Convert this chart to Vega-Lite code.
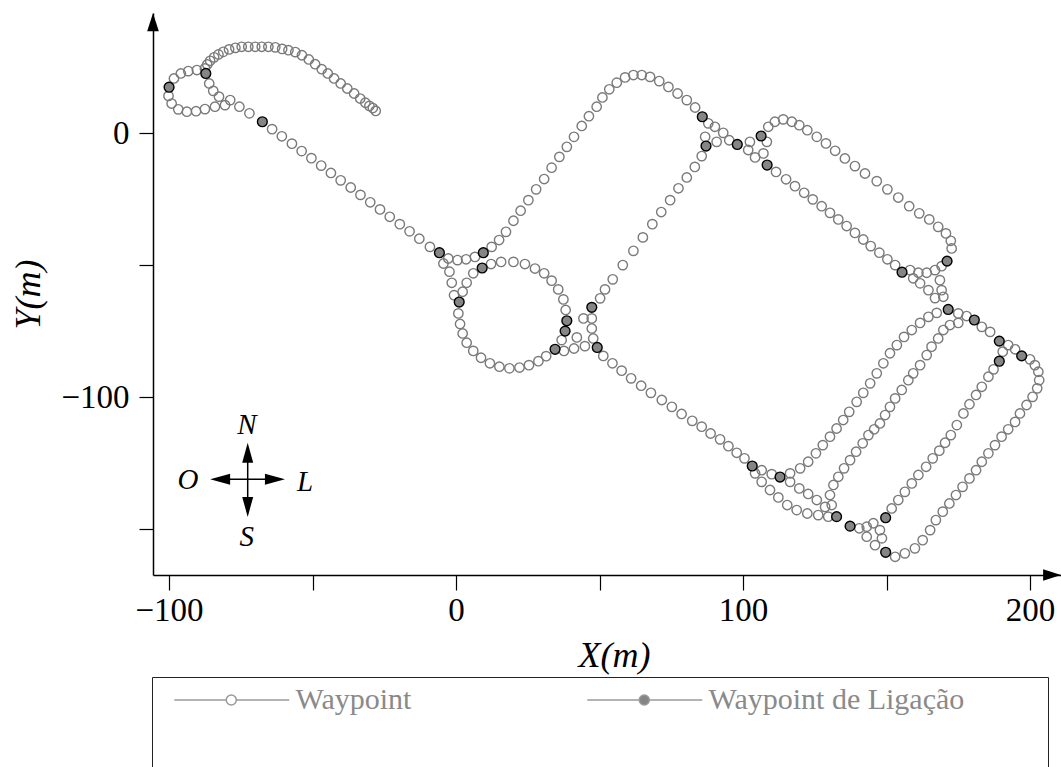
{
"$schema":"https://vega.github.io/schema/vega-lite/v6.json",
"width":908,"height":562,
"autosize":{"type":"none"},
"padding":{"left":153,"top":13,"right":0,"bottom":192},
"background":"white",
"config":{"view":{"stroke":null}},
"datasets":{
"wp":[
{"x":-28.0,"y":8.4},{"x":-29.0,"y":9.5},{"x":-30.2,"y":10.3},{"x":-31.6,"y":11.5},{"x":-33.4,"y":13.1},{"x":-35.5,"y":15.0},{"x":-37.9,"y":16.9},{"x":-40.2,"y":18.8},{"x":-42.5,"y":20.7},{"x":-44.7,"y":22.6},{"x":-46.8,"y":24.2},{"x":-49.1,"y":26.1},{"x":-51.3,"y":27.9},{"x":-53.7,"y":29.5},{"x":-56.0,"y":30.7},{"x":-58.4,"y":31.4},{"x":-60.6,"y":31.9},{"x":-63.0,"y":32.5},{"x":-65.4,"y":32.7},{"x":-67.7,"y":32.7},{"x":-70.0,"y":32.7},{"x":-72.4,"y":32.7},{"x":-74.7,"y":32.7},{"x":-76.9,"y":32.3},{"x":-79.1,"y":31.7},{"x":-81.1,"y":30.8},{"x":-82.8,"y":29.8},{"x":-84.3,"y":28.7},{"x":-85.7,"y":27.4},{"x":-86.7,"y":26.0},{"x":-87.5,"y":24.5},
{"x":-90.3,"y":23.9},{"x":-93.3,"y":23.5},{"x":-95.9,"y":22.6},{"x":-98.3,"y":20.7},{"x":-100.2,"y":14.1},{"x":-99.1,"y":11.2},{"x":-96.8,"y":9.0},{"x":-93.8,"y":8.1},{"x":-90.6,"y":8.3},{"x":-87.5,"y":9.1},{"x":-84.0,"y":10.0},{"x":-80.5,"y":10.6},
{"x":-86.0,"y":18.8},{"x":-84.6,"y":16.0},{"x":-82.6,"y":13.8},{"x":-78.7,"y":12.5},{"x":-75.5,"y":10.0},{"x":-72.0,"y":7.5},
{"x":-64.1,"y":1.5},{"x":-60.7,"y":-1.2},{"x":-57.2,"y":-4.0},{"x":-53.8,"y":-6.8},{"x":-50.4,"y":-9.5},{"x":-47.0,"y":-12.3},{"x":-43.6,"y":-15.1},{"x":-40.2,"y":-17.9},{"x":-36.7,"y":-20.6},{"x":-33.3,"y":-23.4},{"x":-29.9,"y":-26.2},{"x":-26.5,"y":-28.9},{"x":-23.1,"y":-31.7},{"x":-19.6,"y":-34.5},{"x":-16.2,"y":-37.2},{"x":-12.8,"y":-40.0},{"x":-9.1,"y":-43.1},
{"x":-2.7,"y":-47.5},{"x":0.5,"y":-48.1},{"x":3.5,"y":-47.8},{"x":6.6,"y":-46.9},{"x":12.4,"y":-43.1},{"x":15.0,"y":-40.5},{"x":17.4,"y":-37.4},{"x":-4.4,"y":-49.4},{"x":-2.3,"y":-52.5},{"x":-1.5,"y":-56.7},{"x":-0.7,"y":-61.4},{"x":6.0,"y":-53.1},{"x":3.7,"y":-56.7},{"x":2.3,"y":-60.1},{"x":12.2,"y":-49.6},{"x":15.7,"y":-48.8},{"x":20.0,"y":-48.8},{"x":24.0,"y":-49.6},{"x":27.5,"y":-51.3},{"x":30.7,"y":-53.1},{"x":33.3,"y":-55.9},{"x":35.6,"y":-59.2},{"x":37.4,"y":-63.0},{"x":38.2,"y":-67.0},{"x":0.8,"y":-68.3},{"x":1.4,"y":-72.3},{"x":2.3,"y":-75.9},{"x":3.7,"y":-79.4},{"x":6.0,"y":-82.5},{"x":8.7,"y":-85.1},{"x":11.8,"y":-87.2},{"x":15.1,"y":-88.5},{"x":18.6,"y":-89.1},{"x":22.1,"y":-88.8},{"x":25.4,"y":-87.9},{"x":28.7,"y":-86.4},{"x":31.4,"y":-84.5},{"x":37.6,"y":-82.5},{"x":41.1,"y":-81.6},{"x":44.9,"y":-80.7},{"x":36.8,"y":-78.4},{"x":42.1,"y":-77.4},{"x":44.4,"y":-70.2},{"x":47.3,"y":-70.2},{"x":47.3,"y":-74.0},{"x":47.8,"y":-77.8},{"x":50.2,"y":-62.6},{"x":51.9,"y":-59.2},{"x":54.6,"y":-55.4},
{"x":20.0,"y":-33.2},{"x":22.5,"y":-29.4},{"x":25.2,"y":-25.4},{"x":27.9,"y":-21.3},{"x":30.7,"y":-17.4},{"x":33.3,"y":-13.1},{"x":36.0,"y":-9.0},{"x":38.6,"y":-5.2},{"x":41.1,"y":-1.4},{"x":43.8,"y":2.7},{"x":46.3,"y":6.4},{"x":49.0,"y":10.0},{"x":51.0,"y":13.5},{"x":53.4,"y":16.6},{"x":56.0,"y":19.1},{"x":58.9,"y":21.1},{"x":61.8,"y":22.0},{"x":64.7,"y":22.0},{"x":67.6,"y":21.3},{"x":70.8,"y":19.7},{"x":74.0,"y":17.5},{"x":77.2,"y":15.0},{"x":80.4,"y":12.5},{"x":83.3,"y":9.7},
{"x":87.9,"y":3.7},{"x":90.2,"y":2.4},{"x":93.1,"y":0.1},{"x":95.2,"y":-2.7},{"x":86.8,"y":-1.4},{"x":90.8,"y":-3.3},{"x":101.8,"y":-6.4},{"x":104.2,"y":-9.2},{"x":102.4,"y":-3.3},{"x":107.1,"y":-7.7},{"x":108.3,"y":-3.3},
{"x":108.8,"y":2.4},{"x":111.1,"y":4.3},{"x":114.0,"y":5.2},{"x":117.0,"y":4.3},{"x":119.6,"y":3.0},{"x":122.4,"y":1.1},{"x":125.7,"y":-1.4},{"x":128.9,"y":-3.9},{"x":132.1,"y":-6.7},{"x":135.5,"y":-9.6},{"x":139.0,"y":-12.5},{"x":142.5,"y":-15.3},{"x":146.6,"y":-18.2},{"x":150.3,"y":-21.3},{"x":154.1,"y":-24.4},{"x":157.9,"y":-27.7},{"x":161.4,"y":-30.4},{"x":164.9,"y":-32.7},{"x":168.0,"y":-35.5},{"x":170.7,"y":-38.0},{"x":172.4,"y":-40.8},{"x":172.7,"y":-43.7},
{"x":111.5,"y":-14.7},{"x":115.0,"y":-17.5},{"x":118.1,"y":-20.1},{"x":121.3,"y":-22.6},{"x":124.3,"y":-25.1},{"x":127.4,"y":-27.7},{"x":130.3,"y":-30.2},{"x":133.2,"y":-32.7},{"x":136.1,"y":-35.2},{"x":139.0,"y":-37.8},{"x":141.9,"y":-40.3},{"x":144.5,"y":-42.8},{"x":147.5,"y":-45.3},{"x":150.3,"y":-47.8},{"x":153.0,"y":-50.0},
{"x":158.2,"y":-51.9},{"x":161.1,"y":-52.9},{"x":164.0,"y":-52.9},{"x":166.9,"y":-51.9},{"x":169.2,"y":-50.4},{"x":159.3,"y":-55.0},{"x":161.7,"y":-56.9},{"x":164.6,"y":-59.5},{"x":168.6,"y":-55.7},{"x":169.2,"y":-59.5},{"x":169.8,"y":-62.0},{"x":166.9,"y":-62.5},
{"x":85.6,"y":-8.7},{"x":83.2,"y":-12.8},{"x":80.4,"y":-16.8},{"x":77.5,"y":-20.9},{"x":74.6,"y":-25.4},{"x":71.5,"y":-29.9},{"x":68.4,"y":-34.5},{"x":65.1,"y":-39.5},{"x":61.8,"y":-44.6},{"x":58.1,"y":-50.0},
{"x":51.3,"y":-84.4},{"x":54.5,"y":-87.2},{"x":57.7,"y":-90.0},{"x":61.0,"y":-92.9},{"x":64.5,"y":-95.7},{"x":67.9,"y":-98.4},{"x":71.7,"y":-101.1},{"x":75.2,"y":-103.7},{"x":78.6,"y":-106.4},{"x":82.3,"y":-109.0},{"x":85.6,"y":-111.2},{"x":88.7,"y":-113.8},{"x":92.0,"y":-116.0},{"x":94.9,"y":-118.6},{"x":97.8,"y":-121.1},{"x":100.5,"y":-123.2},
{"x":106.5,"y":-127.7},{"x":110.0,"y":-129.2},
{"x":116.4,"y":-128.9},{"x":119.9,"y":-127.0},{"x":122.7,"y":-124.5},{"x":125.4,"y":-121.3},{"x":127.8,"y":-118.2},{"x":130.3,"y":-115.0},{"x":132.6,"y":-111.9},{"x":134.9,"y":-108.7},{"x":137.0,"y":-105.6},{"x":139.6,"y":-101.8},{"x":141.9,"y":-98.4},{"x":144.3,"y":-94.8},{"x":146.6,"y":-91.0},{"x":148.9,"y":-87.2},{"x":151.2,"y":-83.4},{"x":153.6,"y":-80.3},{"x":156.1,"y":-77.2},{"x":158.8,"y":-74.6},{"x":161.7,"y":-71.9},{"x":164.6,"y":-69.6},{"x":167.5,"y":-68.1},
{"x":175.0,"y":-68.3},{"x":177.9,"y":-69.3},{"x":183.2,"y":-73.4},{"x":186.1,"y":-75.3},{"x":190.5,"y":-82.8},{"x":192.4,"y":-80.3},{"x":194.8,"y":-81.9},{"x":200.0,"y":-85.7},{"x":201.7,"y":-87.9},{"x":202.9,"y":-90.4},{"x":203.2,"y":-93.6},{"x":202.5,"y":-96.7},{"x":200.9,"y":-99.9},{"x":198.8,"y":-103.0},
{"x":196.5,"y":-106.2},{"x":194.8,"y":-109.4},{"x":192.4,"y":-112.2},{"x":190.1,"y":-115.0},{"x":187.8,"y":-118.2},{"x":185.5,"y":-121.3},{"x":183.2,"y":-124.5},{"x":181.2,"y":-127.7},{"x":178.9,"y":-130.8},{"x":176.5,"y":-134.0},{"x":174.2,"y":-137.1},{"x":171.9,"y":-140.3},{"x":169.6,"y":-143.4},{"x":167.2,"y":-146.6},{"x":165.2,"y":-150.4},{"x":162.6,"y":-154.2},{"x":159.9,"y":-157.3},{"x":156.4,"y":-159.2},{"x":153.0,"y":-160.5},
{"x":175.0,"y":-71.9},{"x":172.1,"y":-72.7},{"x":169.8,"y":-74.6},{"x":168.0,"y":-77.8},{"x":165.7,"y":-80.9},{"x":164.0,"y":-84.1},{"x":161.7,"y":-87.9},{"x":159.3,"y":-91.0},{"x":157.6,"y":-93.6},{"x":155.3,"y":-97.3},{"x":153.0,"y":-100.5},{"x":151.2,"y":-103.7},{"x":149.5,"y":-106.8},{"x":147.7,"y":-110.0},{"x":145.7,"y":-112.2},{"x":143.7,"y":-114.4},{"x":141.7,"y":-117.5},{"x":139.4,"y":-120.7},{"x":137.3,"y":-123.9},{"x":135.2,"y":-127.0},{"x":133.2,"y":-130.2},{"x":131.5,"y":-133.3},{"x":130.3,"y":-137.1},{"x":130.9,"y":-140.9},
{"x":116.4,"y":-132.1},{"x":119.6,"y":-134.6},{"x":122.7,"y":-136.7},{"x":125.7,"y":-139.0},{"x":128.6,"y":-141.6},{"x":104.2,"y":-128.9},{"x":106.5,"y":-132.1},{"x":109.4,"y":-135.2},{"x":112.3,"y":-138.0},{"x":115.4,"y":-140.9},{"x":118.7,"y":-142.8},{"x":122.4,"y":-144.1},{"x":126.2,"y":-144.7},{"x":129.7,"y":-145.3},
{"x":140.5,"y":-149.7},{"x":143.1,"y":-149.1},{"x":145.4,"y":-147.8},{"x":143.1,"y":-152.9},{"x":146.0,"y":-156.1},{"x":147.7,"y":-150.4},{"x":148.4,"y":-153.5},
{"x":151.8,"y":-142.2},{"x":154.1,"y":-139.0},{"x":156.4,"y":-135.9},{"x":158.8,"y":-132.7},{"x":161.1,"y":-129.5},{"x":163.8,"y":-126.4},{"x":166.1,"y":-123.2},{"x":168.4,"y":-120.3},{"x":170.4,"y":-117.3},{"x":172.4,"y":-114.4},{"x":174.5,"y":-110.6},{"x":176.8,"y":-106.2},{"x":178.9,"y":-102.7},{"x":181.2,"y":-99.2},{"x":183.2,"y":-96.1},{"x":185.5,"y":-92.3},{"x":187.3,"y":-89.5}
],
"lig":[
{"x":-100.0,"y":17.4},{"x":-87.2,"y":22.6},{"x":-67.5,"y":4.3},{"x":-5.8,"y":-45.3},{"x":9.5,"y":-45.3},{"x":9.1,"y":-51.1},{"x":1.1,"y":-64.0},{"x":38.6,"y":-71.1},{"x":38.0,"y":-75.0},{"x":34.5,"y":-81.9},{"x":47.3,"y":-66.0},{"x":49.2,"y":-81.2},{"x":85.8,"y":6.2},{"x":87.1,"y":-4.9},{"x":98.0,"y":-4.3},{"x":106.3,"y":-1.1},{"x":108.4,"y":-12.1},{"x":171.1,"y":-48.5},{"x":155.4,"y":-52.7},{"x":171.5,"y":-66.8},{"x":180.6,"y":-70.8},{"x":189.3,"y":-78.8},{"x":189.3,"y":-86.4},{"x":197.1,"y":-84.4},{"x":103.2,"y":-126.1},{"x":112.9,"y":-130.3},{"x":132.6,"y":-145.3},{"x":137.3,"y":-148.9},{"x":149.7,"y":-145.7},{"x":149.7,"y":-158.8}
],
"compassLines":[
{"x":-82.2,"y":-131.1,"x2":-63.1,"y2":-131.1},{"x":-72.6,"y":-121.1,"x2":-72.6,"y2":-141.6}
],
"compassHeads":[
{"x":-72.6,"y":-121.1,"a":0},{"x":-72.6,"y":-141.6,"a":180},{"x":-82.2,"y":-131.1,"a":270},{"x":-63.1,"y":-131.1,"a":90}
],
"compassText":[
{"x":-72.9,"y":-110.6,"t":"N"},{"x":-72.9,"y":-152.9,"t":"S"},{"x":-93.4,"y":-131.4,"t":"O"},{"x":-52.6,"y":-132.1,"t":"L"}
],
"axisHeads":[
{"x":207.7,"y":-167.4,"a":90},{"x":-105.6,"y":42.0,"a":0}
]
},
"encoding":{
"x":{"field":"x","type":"quantitative","scale":{"domain":[-105.6,210.8],"nice":false,"zero":false},
"axis":{"values":[-100,-50,0,50,100,150,200],"labelExpr":"datum.value % 100 === 0 ? datum.label : ''","title":"X(m)","grid":false,"tickSize":15,"tickColor":"black","tickWidth":1.2,"domainColor":"black","domainWidth":1.5,"labelPadding":4,"labelFont":"Liberation Serif","labelFontSize":33,"labelColor":"black","labelOverlap":false,"labelFlush":false,"titleFont":"Liberation Serif","titleFontSize":36,"titleFontStyle":"italic","titleFontWeight":"normal","titleColor":"black","titleX":461,"titleY":80,"titleBaseline":"middle","titleAlign":"center"}},
"y":{"field":"y","type":"quantitative","scale":{"domain":[-167.4,45.5],"nice":false,"zero":false},
"axis":{"values":[0,-50,-100,-150],"labelExpr":"datum.value % 100 === 0 ? datum.label : ''","title":"Y(m)","grid":false,"tickSize":14,"tickColor":"black","tickWidth":1.2,"domainColor":"black","domainWidth":1.5,"labelPadding":10,"labelFont":"Liberation Serif","labelFontSize":33,"labelColor":"black","labelOverlap":false,"labelFlush":false,"titleFont":"Liberation Serif","titleFontSize":36,"titleFontStyle":"italic","titleFontWeight":"normal","titleColor":"black","titleX":-125,"titleY":281,"titleAngle":270,"titleBaseline":"middle","titleAlign":"center"}}
},
"layer":[
{"data":{"name":"wp"},
"mark":{"type":"point","shape":"circle","filled":true,"size":88,"opacity":1},
"encoding":{
"fill":{"datum":"Waypoint","type":"nominal","scale":{"domain":["Waypoint","Waypoint de Ligação"],"range":["white","#858585"]},
"legend":{"orient":"none","legendX":-1,"legendY":664,"direction":"horizontal","columns":2,"title":" ","titleOrient":"bottom","titleFontSize":30,"titlePadding":30,"padding":8,"strokeColor":"#222","symbolType":"M-0.06,0L4.27,0M5.11,0L9.52,0M4.27,0A0.42,0.42 0 1,1 5.11,0A0.42,0.42 0 1,1 4.27,0Z","symbolSize":576,"symbolStrokeColor":"#9a9a9a","symbolStrokeWidth":1.5,"labelOffset":105.5,"labelFont":"Liberation Serif","labelFontSize":30,"labelColor":"#8a8a8a","labelLimit":600,"columnPadding":161,"symbolOpacity":1,
"labelExpr":"datum.label == 'Waypoint' ? datum.label : datum.label + '\u00a0\u00a0\u00a0\u00a0\u00a0\u00a0\u00a0\u00a0\u00a0\u00a0\u200b'"}}}},
{"data":{"name":"wp"},
"mark":{"type":"point","shape":"circle","filled":false,"size":88,"stroke":"#7a7a7a","strokeWidth":1.4,"opacity":1},
"encoding":{}},
{"data":{"name":"lig"},
"mark":{"type":"point","shape":"circle","filled":true,"size":96,"opacity":1},
"encoding":{"fill":{"datum":"Waypoint de Ligação","type":"nominal"}}},
{"data":{"name":"lig"},
"mark":{"type":"point","shape":"circle","filled":false,"size":96,"stroke":"black","strokeWidth":1.4,"opacity":1},
"encoding":{}},
{"data":{"name":"compassLines"},
"mark":{"type":"rule","stroke":"black","strokeWidth":1.5},
"encoding":{"x2":{"field":"x2"},"y2":{"field":"y2"}}},
{"data":{"name":"compassHeads"},
"mark":{"type":"point","shape":"M0,-1L-0.55,1L0.55,1Z","filled":true,"color":"black","size":400,"opacity":1,"strokeWidth":0},
"encoding":{"angle":{"field":"a","type":"quantitative","scale":null}}},
{"data":{"name":"axisHeads"},
"mark":{"type":"point","shape":"M0,-1L-0.65,1L0.65,1Z","filled":true,"color":"black","size":324,"opacity":1,"strokeWidth":0},
"encoding":{"angle":{"field":"a","type":"quantitative","scale":null}}},
{"data":{"name":"compassText"},
"mark":{"type":"text","font":"Liberation Serif","fontStyle":"italic","fontSize":29,"baseline":"middle","align":"center","color":"black"},
"encoding":{"text":{"field":"t"}}}
]
}
